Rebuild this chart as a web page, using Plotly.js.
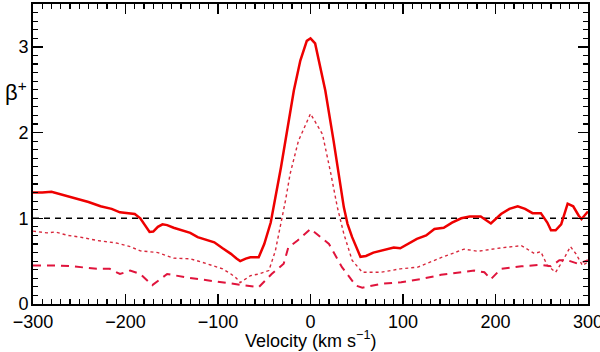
<!DOCTYPE html>
<html>
<head>
<meta charset="utf-8">
<script src="https://cdn.plot.ly/plotly-3.0.1.min.js"></script>
<style>
  html, body { margin: 0; padding: 0; background: #fff; }
  #plot { width: 600px; height: 352px; }
</style>
</head>
<body>
<div id="plot"></div>
<script>
// velocity (km/s) and beta+ values

const velSolid = [-300, -290, -280, -270, -260, -249, -240, -227, -215, -206, -198, -190, -184, -178,
  -174, -170, -165, -160, -155, -148, -140, -130, -122, -112, -104, -95, -86, -80, -76, -70, -65, -56,
  -50, -43, -32, -18, -11, -4, 0, 5, 16, 25, 36, 40, 45, 54, 60, 68, 80, 90, 97, 105, 115, 125, 134,
  144, 153, 163, 172, 184, 195, 206, 215, 224, 232, 240, 249, 256, 260, 265, 271, 278, 284, 290, 293, 300];
const betaSolid = [1.30, 1.30, 1.31, 1.28, 1.25, 1.21, 1.19, 1.14, 1.11, 1.07, 1.06, 1.05, 1.00, 0.90,
  0.84, 0.845, 0.90, 0.93, 0.92, 0.89, 0.86, 0.83, 0.78, 0.75, 0.72, 0.65, 0.585, 0.53, 0.50, 0.53, 0.545, 0.545,
  0.70, 0.95, 1.59, 2.49, 2.84, 3.07, 3.10, 3.04, 2.49, 1.90, 1.13, 0.935, 0.78, 0.55, 0.56, 0.60, 0.63, 0.66,
  0.65, 0.70, 0.76, 0.80, 0.876, 0.89, 0.95, 1.00, 1.02, 1.02, 0.94, 1.05, 1.11, 1.14, 1.11, 1.06, 1.06,
  0.95, 0.86, 0.86, 0.93, 1.17, 1.14, 1.03, 0.99, 1.08];

const velDot = [-300, -285, -276, -262, -249, -230, -209, -195, -184, -172, -165, -148, -130, -118, -108,
  -95, -86, -80, -76, -65, -56, -45, -38, -32, -27, -22, -13, 0, 13, 22, 29, 36, 45, 56, 76, 97, 116,
  141, 166, 181, 206, 228, 242, 249, 256, 265, 273, 281, 287, 294, 300];
const betaDot = [0.85, 0.83, 0.84, 0.80, 0.78, 0.74, 0.71, 0.67, 0.62, 0.61, 0.60, 0.535, 0.527, 0.49, 0.457,
  0.41, 0.35, 0.30, 0.25, 0.33, 0.35, 0.39, 0.62, 0.935, 1.21, 1.52, 1.905, 2.22, 1.98, 1.52, 1.13, 0.82,
  0.51, 0.37, 0.37, 0.41, 0.43, 0.54, 0.64, 0.615, 0.655, 0.68, 0.59, 0.61, 0.45, 0.37, 0.51, 0.67, 0.585,
  0.45, 0.49];

const velDash = [-300, -276, -257, -231, -217, -206, -195, -184, -171, -155, -134, -108, -87, -72, -56,
  -42, -29, -24, -14, 0, 20, 34, 49, 56, 76, 98, 119, 141, 177, 188, 195, 206, 228, 249, 260, 269, 278,
  289, 300];
const betaDash = [0.45, 0.45, 0.44, 0.41, 0.41, 0.35, 0.39, 0.35, 0.22, 0.35, 0.31, 0.27, 0.235, 0.215, 0.195,
  0.35, 0.47, 0.66, 0.74, 0.876, 0.70, 0.43, 0.215, 0.19, 0.235, 0.254, 0.29, 0.34, 0.39, 0.37, 0.29,
  0.41, 0.44, 0.457, 0.44, 0.51, 0.51, 0.47, 0.51];

const refVel = [-300, 300];
const refBeta = [1, 1];

const traces = [
  { x: refVel, y: refBeta, mode: "lines", line: { color: "#000", width: 1.5, dash: "6px,5px" } },
  { x: velDot, y: betaDot, mode: "lines", line: { color: "#d8283c", width: 1.4, dash: "dot" } },
  { x: velDash, y: betaDash, mode: "lines", line: { color: "#e0143c", width: 2, dash: "8px,6px" } },
  { x: velSolid, y: betaSolid, mode: "lines", line: { color: "#ee0000", width: 2.5 } },
];

const fam = "Liberation Sans, Arial, sans-serif";
const tickFont = { family: fam, size: 18, color: "#000" };

const layout = {
  width: 600,
  height: 352,
  margin: { l: 33, r: 12, t: 4, b: 48 },
  paper_bgcolor: "#fff",
  plot_bgcolor: "#fff",
  showlegend: false,
  font: tickFont,
  xaxis: {
    range: [-300, 300],
    dtick: 100,
    ticks: "inside",
    ticklen: 10,
    tickwidth: 1.5,
    tickcolor: "#000",
    minor: { dtick: 10, ticks: "inside", ticklen: 5, tickwidth: 1.2, tickcolor: "#000" },
    showline: true,
    linewidth: 2,
    linecolor: "#000",
    mirror: "ticks",
    showgrid: false,
    zeroline: false,
    tickfont: tickFont,
    ticklabelstandoff: 0,
    ticklabeloverflow: "allow",
  },
  yaxis: {
    range: [0, 3.5],
    dtick: 1,
    ticks: "inside",
    ticklen: 10,
    tickwidth: 1.5,
    tickcolor: "#000",
    minor: { dtick: 0.1, ticks: "inside", ticklen: 5, tickwidth: 1.2, tickcolor: "#000" },
    showline: true,
    linewidth: 2,
    linecolor: "#000",
    mirror: "ticks",
    showgrid: false,
    zeroline: false,
    tickfont: tickFont,
    ticklabelstandoff: -1,
    ticklabeloverflow: "allow",
  },
  annotations: [
    {
      text: "\u03b2<sup>+</sup>",
      xref: "paper", yref: "paper",
      x: -0.03, y: 0.71,
      xanchor: "center", yanchor: "middle",
      showarrow: false,
      font: { family: fam, size: 22, color: "#000" },
    },
    {
      text: "Velocity (km s<sup>\u22121</sup>)",
      xref: "paper", yref: "paper",
      x: 0.5, y: -0.118,
      xanchor: "center", yanchor: "middle",
      showarrow: false,
      font: { family: fam, size: 18, color: "#000" },
    },
  ],
};

Plotly.newPlot("plot", traces, layout, { staticPlot: true });
</script>
</body>
</html>
